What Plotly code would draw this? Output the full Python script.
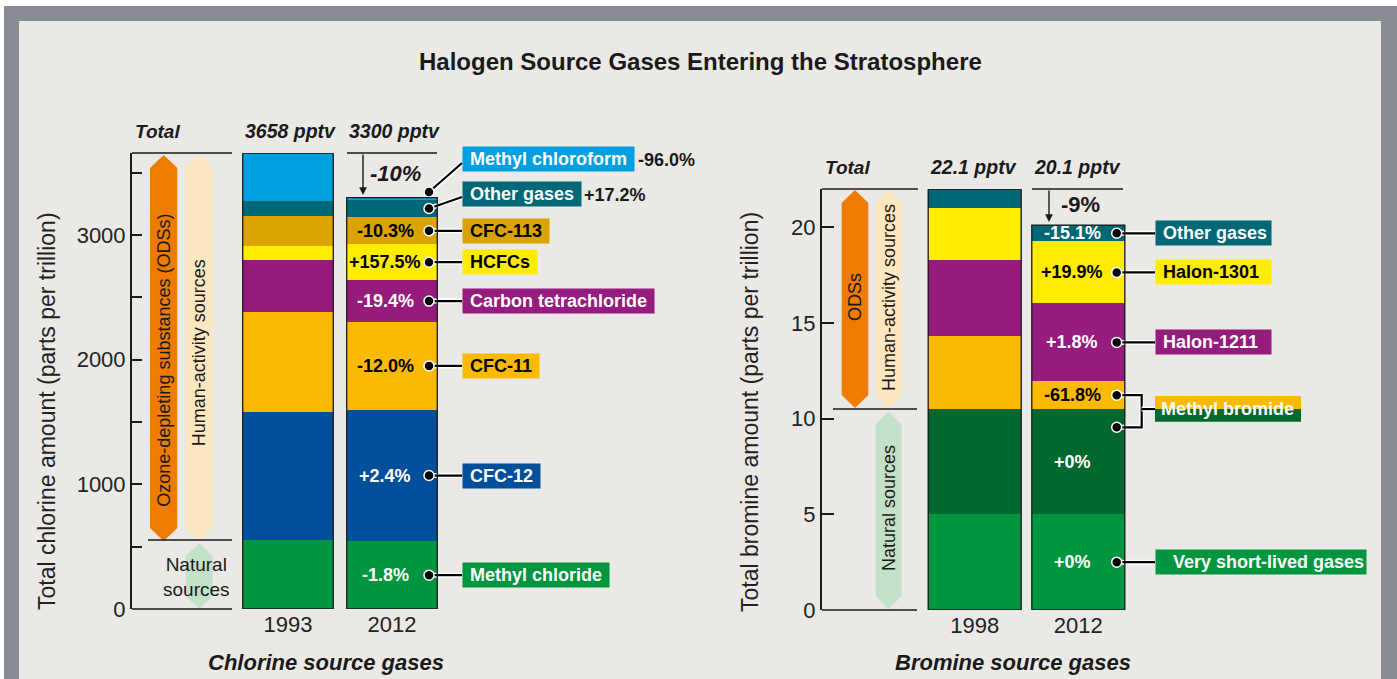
import plotly.graph_objects as go

W, H = 1397, 679

# ---- chlorine source gases (pptv), stacked bottom -> top
cl_gases = ["Methyl chloride", "CFC-12", "CFC-11", "Carbon tetrachloride",
            "HCFCs", "CFC-113", "Other gases", "Methyl chloroform"]
cl_years = ["1993", "2012"]
cl_first = [553, 1029, 800, 417, 112, 240, 121, 386]
cl_last = [543, 1055, 704, 336, 288, 215, 144, 15]
cl_change = ["-1.8%", "+2.4%", "-12.0%", "-19.4%", "+157.5%", "-10.3%", "+17.2%", "-96.0%"]
cl_totals = ["3658 pptv", "3300 pptv"]
cl_total_change = "-10%"

# ---- bromine source gases (pptv), stacked bottom -> top
br_gases = ["Very short-lived gases", "Methyl bromide (natural)", "Methyl bromide",
            "Halon-1211", "Halon-1301", "Other gases"]
br_years = ["1998", "2012"]
br_first = [5.0, 5.5, 3.8, 4.0, 2.7, 1.0]
br_last = [5.0, 5.5, 1.45, 4.07, 3.24, 0.85]
br_change = ["+0%", "+0%", "-61.8%", "+1.8%", "+19.9%", "-15.1%"]
br_totals = ["22.1 pptv", "20.1 pptv"]
br_total_change = "-9%"

cl_colors = ["#00953f", "#004f9b", "#fbb900", "#951b7d", "#ffec00", "#dba300", "#006777", "#009fe0"]
cl_ink = ["white", "white", "black", "white", "black", "black", "white", "white"]
br_colors = ["#00953f", "#00692f", "#fbb900", "#951b7d", "#ffec00", "#006777"]
br_ink = ["white", "white", "black", "white", "black", "white"]

FONT = "Liberation Sans, Arial, sans-serif"
INK = "#1a1a1a"


def px(x):
    return x / W


def py(y):
    return 1 - y / H


def centers(vals):
    out, base = [], 0
    for v in vals:
        out.append(base + v / 2)
        base += v
    return out


# pixel <-> data helpers for the two panels
CL_C0, CL_STEP, CL_Y0 = 288, 104, 609
CL_K = (609 - 153) / sum(cl_first)
BR_C0, BR_STEP, BR_Y0 = 974.7, 103.6, 610
BR_K = (610 - 189) / sum(br_first)


def cx(p):
    return (p - CL_C0) / CL_STEP


def cy(p):
    return (CL_Y0 - p) / CL_K


def bx(p):
    return (p - BR_C0) / BR_STEP


def by(p):
    return (BR_Y0 - p) / BR_K


fig = go.Figure()

# ---- bars
for i, g in enumerate(cl_gases):
    fig.add_trace(go.Bar(x=[0, 1], y=[cl_first[i], cl_last[i]], name=g,
                         marker=dict(color=cl_colors[i], line_width=0),
                         width=0.871, xaxis="x", yaxis="y", showlegend=False))
for i, g in enumerate(br_gases):
    fig.add_trace(go.Bar(x=[0, 1], y=[br_first[i], br_last[i]], name=g,
                         marker=dict(color=br_colors[i], line_width=0),
                         width=0.898, xaxis="x2", yaxis="y2", showlegend=False))


def connector(xs, ys, xa, ya):
    fig.add_trace(go.Scatter(x=xs, y=ys, mode="lines", xaxis=xa, yaxis=ya,
                             line=dict(color="white", width=5), showlegend=False,
                             hoverinfo="skip"))
    fig.add_trace(go.Scatter(x=xs, y=ys, mode="lines", xaxis=xa, yaxis=ya,
                             line=dict(color="black", width=2.2), showlegend=False,
                             hoverinfo="skip"))


def dots(xs, ys, xa, ya):
    fig.add_trace(go.Scatter(x=xs, y=ys, mode="markers", xaxis=xa, yaxis=ya,
                             marker=dict(size=10, color="black",
                                         line=dict(color="white", width=1.5)),
                             showlegend=False, hoverinfo="skip"))


annotations = []
shapes = []


def text(x, y, s, size=18, color=INK, **kw):
    d = dict(x=x, y=y, xref="paper", yref="paper", text=s, showarrow=False,
             xanchor="center", yanchor="middle",
             font=dict(family=FONT, size=size, color=color))
    d.update(kw)
    annotations.append(d)


# ---- chlorine connectors, boxes and percent labels
cl_c = centers(cl_last)
dot_x, box_x = cx(429), cx(462)
cl_dot_y = []
for i in range(6):
    connector([dot_x, box_x], [cl_c[i], cl_c[i]], "x", "y")
    cl_dot_y.append(cl_c[i])
connector([dot_x, box_x], [cy(192), cy(163)], "x", "y")
connector([dot_x, box_x], [cl_c[6], cy(197)], "x", "y")
cl_dot_y += [cl_c[6], cy(192)]
dots([dot_x] * len(cl_dot_y), cl_dot_y, "x", "y")

cl_box_y = cl_c[:6] + [cy(194.5), cy(159.5)]
for i, g in enumerate(cl_gases):
    annotations.append(dict(x=box_x, y=cl_box_y[i], xref="x", yref="y", xanchor="left",
                            yanchor="middle", showarrow=False,
                            text="&nbsp;<b>%s</b>&nbsp;" % g, bgcolor=cl_colors[i],
                            borderpad=2,
                            font=dict(family=FONT, size=18, color=cl_ink[i])))
    if i < 6:
        annotations.append(dict(x=1 - 7 / CL_STEP, y=cl_c[i], xref="x", yref="y",
                                xanchor="center", yanchor="middle",
                                showarrow=False, text="<b>%s</b>" % cl_change[i],
                                font=dict(family=FONT, size=18, color=cl_ink[i])))
text(px(582), py(194.5), "<b>%s</b>" % cl_change[6], xanchor="left")
text(px(636), py(159.5), "<b>%s</b>" % cl_change[7], xanchor="left")

# ---- bromine connectors, boxes and percent labels
br_c = centers(br_last)
bdot_x, bbox_x, brk_x = bx(1116.7), bx(1155), bx(1141.7)
for i in [0, 3, 4, 5]:
    connector([bdot_x, bbox_x], [br_c[i], br_c[i]], "x2", "y2")
mb_low = by(427.3)
mb_mid = br_last[0] + br_last[1]
connector([bdot_x, brk_x, brk_x, bdot_x], [br_c[2], br_c[2], mb_low, mb_low], "x2", "y2")
connector([brk_x, bbox_x], [mb_mid, mb_mid], "x2", "y2")
dots([bdot_x] * 6, [br_c[0], br_c[3], br_c[4], br_c[5], br_c[2], mb_low], "x2", "y2")

for i in range(6):
    annotations.append(dict(x=1 - 6 / BR_STEP, y=br_c[i], xref="x2", yref="y2",
                            xanchor="center", yanchor="middle",
                            showarrow=False, text="<b>%s</b>" % br_change[i],
                            font=dict(family=FONT, size=18, color=br_ink[i])))
for i in [3, 4, 5]:
    annotations.append(dict(x=bbox_x, y=br_c[i], xref="x2", yref="y2", xanchor="left",
                            yanchor="middle",
                            showarrow=False, text="&nbsp;<b>%s</b>" % br_gases[i],
                            bgcolor=br_colors[i], borderpad=2, width=111, align="left",
                            font=dict(family=FONT, size=18, color=br_ink[i])))
annotations.append(dict(x=bbox_x, y=br_c[0], xref="x2", yref="y2", xanchor="left",
                        yanchor="middle", showarrow=False,
                        text="&nbsp;&nbsp;&nbsp;<b>%s</b>" % br_gases[0],
                        bgcolor=br_colors[0], borderpad=2,
                        font=dict(family=FONT, size=18, color=br_ink[0])))
# split-colour methyl bromide tag
shapes.append(dict(type="rect", xref="paper", yref="paper", x0=px(1155), x1=px(1301),
                   y0=py(409), y1=py(396), fillcolor=br_colors[2], line_width=0))
shapes.append(dict(type="rect", xref="paper", yref="paper", x0=px(1155), x1=px(1301),
                   y0=py(421.7), y1=py(409), fillcolor=br_colors[1], line_width=0))
text(px(1159), py(409), "<b>%s</b>" % br_gases[2], color="white", xanchor="left")

# ---- bar outlines
for i in range(2):
    shapes.append(dict(type="rect", xref="x", yref="y", x0=i - 0.4355, x1=i + 0.4355,
                       y0=0, y1=sum(cl_first) if i == 0 else sum(cl_last),
                       line=dict(color=INK, width=1.3)))
    shapes.append(dict(type="rect", xref="x2", yref="y2", x0=i - 0.449, x1=i + 0.449,
                       y0=0, y1=sum(br_first) if i == 0 else sum(br_last),
                       line=dict(color=INK, width=1.3)))


# ---- "Total" column decorations
def hexagon(x0, x1, y0, y1, color, tip=13):
    xm = (x0 + x1) / 2
    pts = [(x0, y0 + tip), (xm, y0), (x1, y0 + tip), (x1, y1 - tip), (xm, y1), (x0, y1 - tip)]
    path = "M " + " L ".join("%.5f,%.5f" % (px(a), py(b)) for a, b in pts) + " Z"
    shapes.append(dict(type="path", xref="paper", yref="paper", path=path,
                       fillcolor=color, line_width=0, layer="below"))


def hline(x0, x1, y, w=1.4):
    shapes.append(dict(type="line", xref="paper", yref="paper", x0=px(x0), x1=px(x1),
                       y0=py(y), y1=py(y), line=dict(color=INK, width=w)))


ORANGE, PEACH, MINT = "#ef7b00", "#fde7c0", "#c3e0c8"
hexagon(150, 177.3, 155, 541, ORANGE)
hexagon(185.7, 212.7, 155, 541, PEACH)
hexagon(185.7, 212.7, 543, 609, MINT)
hexagon(841.7, 868.3, 190, 408, ORANGE)
hexagon(875.7, 901.7, 190, 408, PEACH)
hexagon(875.7, 901.7, 411.7, 609, MINT)

hline(132, 232, 153)
hline(347, 437, 153)
hline(148, 232, 540)
hline(132, 232, 609)
hline(822, 918, 189)
hline(1032, 1123, 189)
hline(833, 917, 409)
hline(822, 917, 610)

text(px(163.7), py(360), "Ozone-depleting substances (ODSs)", textangle=-90)
text(px(199.2), py(353), "Human-activity sources", textangle=-90)
text(px(196), py(577), "Natural<br>sources", size=19)
text(px(855), py(297), "ODSs", textangle=-90)
text(px(889), py(298), "Human-activity sources", textangle=-90)
text(px(889), py(508), "Natural sources", textangle=-90)

# ---- headers, arrows, titles
text(px(157), py(131), "<b><i>Total</i></b>", size=19)
text(px(290), py(131), "<b><i>%s</i></b>" % cl_totals[0], size=19.5)
text(px(394), py(131), "<b><i>%s</i></b>" % cl_totals[1], size=19.5)
text(px(847), py(167), "<b><i>Total</i></b>", size=19)
text(px(973), py(167), "<b><i>%s</i></b>" % br_totals[0], size=19.5)
text(px(1077), py(167), "<b><i>%s</i></b>" % br_totals[1], size=19.5)
text(px(395), py(174), "<b><i>%s</i></b>" % cl_total_change, size=22)
text(px(1080), py(204), "<b>%s</b>" % br_total_change, size=22)

for x, y, ay in [(363, 195, -42), (1049, 222, -33)]:
    annotations.append(dict(x=px(x), y=py(y), xref="paper", yref="paper", text="",
                            showarrow=True, ax=0, ay=ay, arrowhead=2, arrowsize=1.1,
                            arrowwidth=1.4, arrowcolor=INK, standoff=0))

text(px(700), py(61), "<b>Halogen Source Gases Entering the Stratosphere</b>", size=24)
text(px(326), py(662), "<b><i>Chlorine source gases</i></b>", size=22)
text(px(1013), py(662), "<b><i>Bromine source gases</i></b>", size=22)
text(px(47), py(411), "Total chlorine amount (parts per trillion)", size=23,
     color="#222", textangle=-90)
text(px(750), py(412), "Total bromine amount (parts per trillion)", size=23,
     color="#222", textangle=-90)

# ---- frame
frame = [
    dict(type="rect", xref="paper", yref="paper", x0=px(4), x1=1, y0=0, y1=py(6),
         fillcolor="#878c94", line_width=0, layer="below"),
    dict(type="rect", xref="paper", yref="paper", x0=px(19), x1=px(1381), y0=0, y1=py(21),
         fillcolor="#ebe9e5", line_width=0, layer="below"),
]

yax = dict(showline=True, linecolor=INK, linewidth=2, ticks="inside", tickcolor=INK,
           tickwidth=1.5, showgrid=False, zeroline=False, automargin=False,
           tickfont=dict(family=FONT, size=22, color="#222"))
xax = dict(showline=False, ticks="", showgrid=False, zeroline=False, tickvals=[0, 1],
           automargin=False, tickfont=dict(family=FONT, size=22, color="#222"))

fig.update_layout(
    width=W, height=H, margin=dict(l=0, r=0, t=0, b=0, pad=0), autosize=False,
    paper_bgcolor="white", plot_bgcolor="rgba(0,0,0,0)",
    barmode="stack", bargap=0, showlegend=False,
    font=dict(family=FONT, color=INK),
    xaxis=dict(xax, domain=[px(132), px(700)], anchor="y", ticktext=cl_years,
               range=[cx(132), cx(700)]),
    yaxis=dict(yax, domain=[py(609), py(153)], anchor="x", range=[0, sum(cl_first)],
               tick0=0, dtick=1000, ticklen=10,
               minor=dict(ticks="inside", ticklen=10, tickwidth=1.5, tickcolor=INK,
                          dtick=500, tick0=0)),
    xaxis2=dict(xax, domain=[px(822), px(1390)], anchor="y2", ticktext=br_years,
                range=[bx(822), bx(1390)]),
    yaxis2=dict(yax, domain=[py(610), py(189)], anchor="x2", range=[0, sum(br_first)],
                tick0=0, dtick=5, ticklen=12),
    shapes=frame + shapes,
    annotations=annotations,
)

fig.write_html("out.html", config={"displayModeBar": False},
               post_script="document.body.style.margin='0';"
                           "document.body.style.overflow='hidden';")
